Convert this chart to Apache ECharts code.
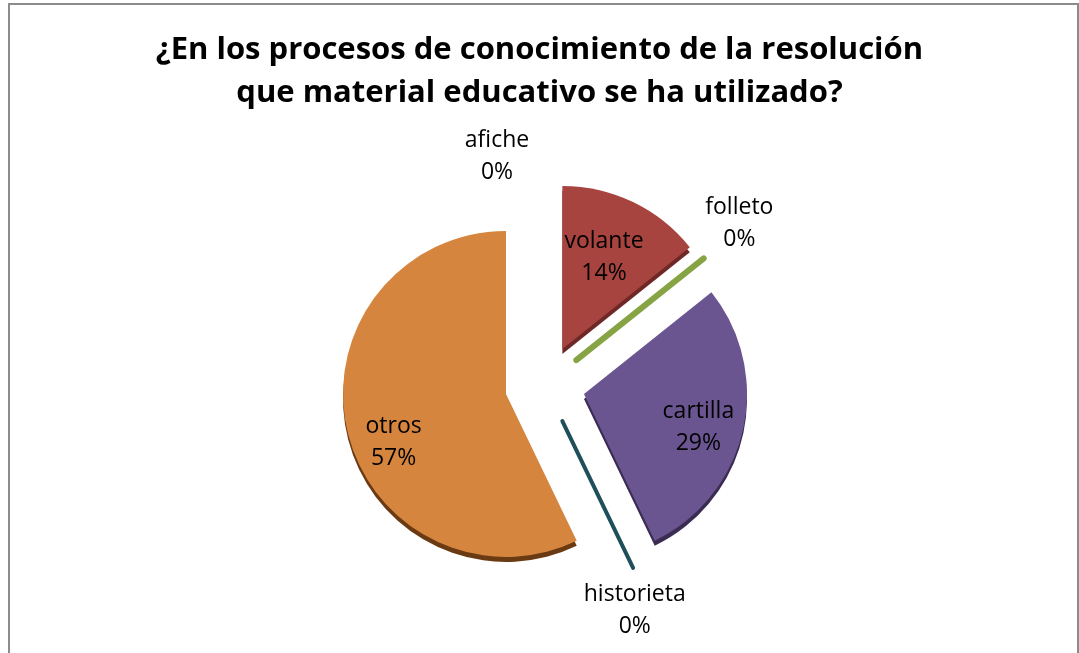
<!DOCTYPE html>
<html>
<head>
<meta charset="utf-8">
<script src="https://cdn.jsdelivr.net/npm/echarts@6/dist/echarts.min.js"></script>
<style>
  html, body { margin: 0; padding: 0; background: #ffffff; }
  #chart { position: absolute; left: 0; top: 0; width: 1079px; height: 653px; }
  #frame { position: absolute; left: 8px; top: 3px; width: 1067px; height: 700px;
           border: 2px solid #8c8c8c; pointer-events: none; }
</style>
</head>
<body>
<div id="chart"></div>
<div id="frame"></div>
<script>
// datos de la encuesta
var categorias = ["afiche", "volante", "folleto", "cartilla", "historieta", "otros"];
var valores = [0, 1, 0, 2, 0, 4];

var colores = ["#4a7ebb", "#a8443f", "#86a444", "#6a5590", "#1f4f5a", "#d6853f"];
var sombras = ["#2c4d74", "#6e2826", "#4f6428", "#3a2c52", "#102c33", "#6a3a12"];
var grosor = [0, 0, 6, 0, 4, 0]; // las porciones vacias se ven como una linea

// ajuste fino de las etiquetas (dx, dy)
var desplaza = [[-33, -6], [5, -15], [5, -23], [32, 15], [-22, 25], [-30, 30]];

var chart = echarts.init(document.getElementById("chart"));

var datos = categorias.map(function (c, i) {
  var cero = valores[i] === 0;
  return {
    name: c,
    value: valores[i],
    selected: true,
    itemStyle: {
      color: colores[i],
      borderColor: colores[i],
      borderWidth: grosor[i],
      shadowColor: cero ? "rgba(0,0,0,0)" : sombras[i],
      shadowOffsetX: 0,
      shadowOffsetY: 5
    },
    label: {
      position: cero ? "outside" : "inside"
    },
    labelLine: { show: false }
  };
});

var option = {
  animation: false,
  title: {
    text: "¿En los procesos de conocimiento de la resolución\nque material educativo se ha utilizado?",
    left: "center",
    top: 24,
    textStyle: {
      fontFamily: "Open Sans",
      fontWeight: "bold",
      fontSize: 31,
      lineHeight: 43,
      color: "#000"
    }
  },
  series: [
    {
      type: "pie",
      center: [545, 385],
      radius: 163,
      startAngle: 90,
      clockwise: true,
      selectedMode: "multiple",
      selectedOffset: 40,
      avoidLabelOverlap: false,
      label: {
        show: true,
        formatter: function (p) {
          return p.name + "\n" + Math.round(p.percent) + "%";
        },
        fontFamily: "Open Sans",
        fontSize: 23,
        lineHeight: 32,
        color: "#000"
      },
      labelLine: { show: false, length: 20, length2: 10 },
      labelLayout: function (p) {
        return {
          dx: desplaza[p.dataIndex][0],
          dy: desplaza[p.dataIndex][1],
          align: "center",
          verticalAlign: "middle"
        };
      },
      emphasis: { disabled: true },
      data: datos
    }
  ]
};

chart.setOption(option);
</script>
</body>
</html>
